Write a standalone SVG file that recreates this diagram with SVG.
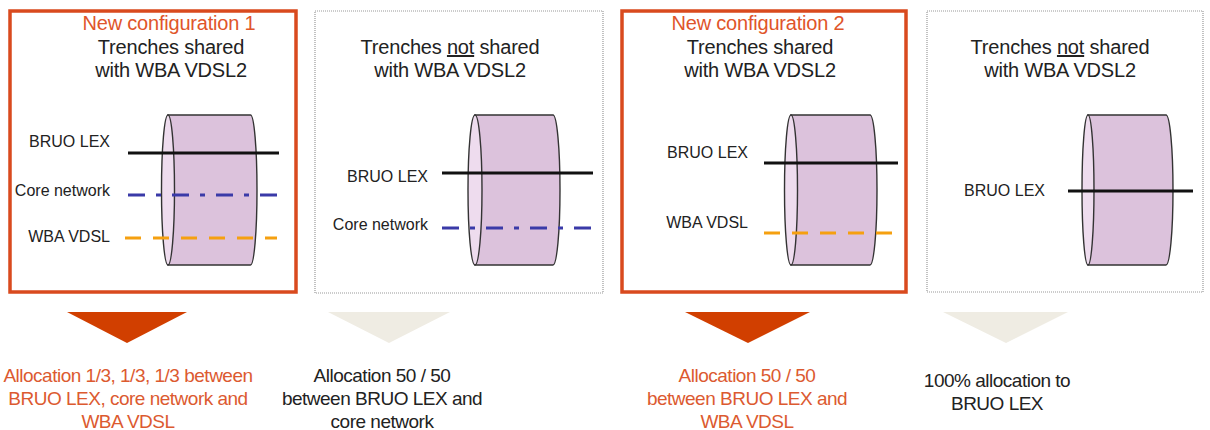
<svg xmlns="http://www.w3.org/2000/svg" width="1210" height="430" viewBox="0 0 1210 430">
<defs>
<style>
text{font-family:"Liberation Sans",Arial,sans-serif}
.title{font-size:20px;fill:#222;text-anchor:middle;letter-spacing:-0.2px}
.cfg{font-size:20px;fill:#e0552a;text-anchor:middle;letter-spacing:-0.2px}
.lbl{font-size:16px;fill:#222;text-anchor:end}
.bot{font-size:19px;fill:#222;text-anchor:middle;letter-spacing:-0.5px}
.botO{font-size:19px;fill:#dc5a30;text-anchor:middle;letter-spacing:-0.5px}
.frameO{fill:#fff;stroke:#d94a1e;stroke-width:3.5}
.frameG{fill:#fff;stroke:#999;stroke-width:1.2;stroke-dasharray:1 1}
.body{fill:#dcc2dc;stroke:#333;stroke-width:1.4}
.front{fill:#eedcee;stroke:#333;stroke-width:1.4}
.bruo{stroke:#111;stroke-width:3;fill:none}
.core{stroke:#3a3aa8;stroke-width:3;fill:none;stroke-dasharray:17 11 5 11}
.wba{stroke:#f5a010;stroke-width:3;fill:none;stroke-dasharray:16 12}
.triO{fill:#d13f00}
.triG{fill:#efece3}
</style>
</defs>

<g id="panel1">
<rect class="frameO" x="10" y="11" width="286" height="281"/>
<text class="cfg" x="169" y="30">New configuration 1</text>
<text class="title" x="171" y="54">Trenches shared</text>
<text class="title" x="171" y="77">with WBA VDSL2</text>
<path class="body" d="M168,115 L250.5,115 A6.5,75 0 0 1 250.5,265 L168,265 Z"/>
<ellipse class="front" cx="168" cy="190" rx="6.5" ry="75"/>
<text class="lbl" x="110" y="147">BRUO LEX</text>
<text class="lbl" x="110" y="196">Core network</text>
<text class="lbl" x="110" y="242">WBA VDSL</text>
</g>

<g id="panel2">
<rect class="frameG" x="315" y="11" width="288" height="282"/>
<text class="title" x="450" y="54">Trenches <tspan text-decoration="underline">not</tspan> shared</text>
<text class="title" x="450" y="77">with WBA VDSL2</text>
<path class="body" d="M475,115 L553,115 A7,75 0 0 1 553,265 L475,265 Z"/>
<ellipse class="front" cx="475" cy="190" rx="7" ry="75"/>
<text class="lbl" x="428" y="182">BRUO LEX</text>
<text class="lbl" x="428" y="230">Core network</text>
</g>

<g id="panel3">
<rect class="frameO" x="622" y="11" width="284" height="281"/>
<text class="cfg" x="758" y="30">New configuration 2</text>
<text class="title" x="760" y="54">Trenches shared</text>
<text class="title" x="760" y="77">with WBA VDSL2</text>
<path class="body" d="M791,115 L870,115 A7,75 0 0 1 870,265 L791,265 Z"/>
<ellipse class="front" cx="791" cy="190" rx="6.5" ry="75"/>
<text class="lbl" x="748" y="158">BRUO LEX</text>
<text class="lbl" x="748" y="228">WBA VDSL</text>
</g>

<g id="panel4">
<rect class="frameG" x="927" y="11" width="276" height="281"/>
<text class="title" x="1060" y="54">Trenches <tspan text-decoration="underline">not</tspan> shared</text>
<text class="title" x="1060" y="77">with WBA VDSL2</text>
<path class="body" d="M1088,115 L1166,115 A7,75 0 0 1 1166,265 L1088,265 Z"/>
<ellipse class="front" cx="1088" cy="190" rx="6" ry="75"/>
<text class="lbl" x="1045" y="196">BRUO LEX</text>
</g>

<g id="connectors">
<line class="bruo" x1="128" y1="153" x2="279" y2="153"/>
<line class="core" x1="128" y1="195" x2="279" y2="195"/>
<line class="wba" x1="125" y1="238" x2="277" y2="238"/>
<line class="bruo" x1="442" y1="173" x2="593" y2="173"/>
<line class="core" x1="442" y1="228" x2="593" y2="228"/>
<line class="bruo" x1="764" y1="163" x2="898" y2="163"/>
<line class="wba" x1="764" y1="233" x2="896" y2="233"/>
<line class="bruo" x1="1068" y1="191" x2="1193" y2="191"/>
</g>

<g id="result1">
<polygon class="triO" points="67,312 187,312 127,343"/>
<text class="botO" x="128" y="382">Allocation 1/3, 1/3, 1/3 between</text>
<text class="botO" x="128" y="405">BRUO LEX, core network and</text>
<text class="botO" x="128" y="428">WBA VDSL</text>
</g>
<g id="result2">
<polygon class="triG" points="328,312 450,312 389,343"/>
<text class="bot" x="382" y="382">Allocation 50 / 50</text>
<text class="bot" x="382" y="405">between BRUO LEX and</text>
<text class="bot" x="382" y="428">core network</text>
</g>
<g id="result3">
<polygon class="triO" points="685,312 810,312 748,343"/>
<text class="botO" x="747" y="382">Allocation 50 / 50</text>
<text class="botO" x="747" y="405">between BRUO LEX and</text>
<text class="botO" x="747" y="428">WBA VDSL</text>
</g>
<g id="result4">
<polygon class="triG" points="943,312 1068,312 1006,343"/>
<text class="bot" x="997" y="387">100% allocation to</text>
<text class="bot" x="997" y="410">BRUO LEX</text>
</g>
</svg>
